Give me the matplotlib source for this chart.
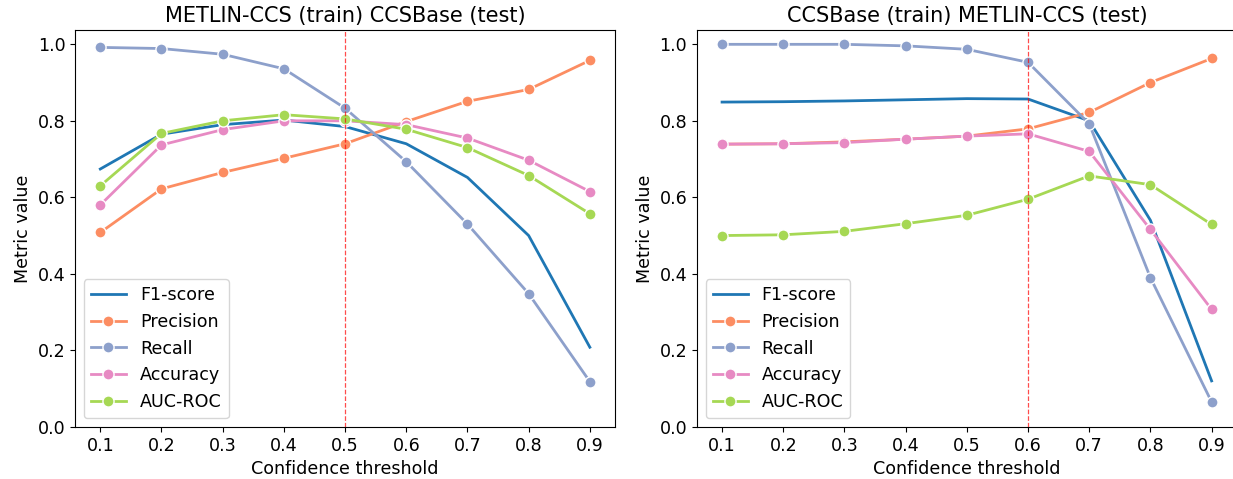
import numpy as np
import matplotlib
matplotlib.use("Agg")
import matplotlib.pyplot as plt

thresholds = [0.1, 0.2, 0.3, 0.4, 0.5, 0.6, 0.7, 0.8, 0.9]
metric_names = ["F1-score", "Precision", "Recall", "Accuracy", "AUC-ROC"]

# METLIN-CCS (train) -> CCSBase (test)
left_f1 = [0.674, 0.765, 0.790, 0.802, 0.785, 0.740, 0.652, 0.500, 0.208]
left_precision = [0.508, 0.622, 0.665, 0.702, 0.740, 0.798, 0.851, 0.882, 0.958]
left_recall = [0.992, 0.989, 0.974, 0.936, 0.833, 0.693, 0.530, 0.348, 0.118]
left_accuracy = [0.580, 0.737, 0.777, 0.800, 0.800, 0.790, 0.755, 0.697, 0.615]
left_auc = [0.630, 0.767, 0.800, 0.816, 0.805, 0.778, 0.730, 0.657, 0.557]

# CCSBase (train) -> METLIN-CCS (test)
right_f1 = [0.849, 0.850, 0.852, 0.855, 0.858, 0.857, 0.800, 0.540, 0.120]
right_precision = [0.739, 0.740, 0.745, 0.752, 0.760, 0.779, 0.822, 0.900, 0.963]
right_recall = [1.000, 1.000, 1.000, 0.996, 0.987, 0.953, 0.792, 0.390, 0.065]
right_accuracy = [0.739, 0.740, 0.743, 0.752, 0.760, 0.766, 0.720, 0.516, 0.307]
right_auc = [0.500, 0.502, 0.511, 0.531, 0.553, 0.595, 0.656, 0.633, 0.529]

panels = [
    ("METLIN-CCS (train) CCSBase (test)", 0.5,
     [left_f1, left_precision, left_recall, left_accuracy, left_auc]),
    ("CCSBase (train) METLIN-CCS (test)", 0.6,
     [right_f1, right_precision, right_recall, right_accuracy, right_auc]),
]

colors = ["#1f77b4", "#fc8d62", "#8da0cb", "#e78ac3", "#a6d854"]

fig, axes = plt.subplots(1, 2, figsize=(12.33, 4.79), dpi=100)
# right panel runs slightly off the canvas, as in the original crop
fig.subplots_adjust(left=0.061, right=1.003, top=0.937, bottom=0.109, wspace=0.152)

for ax, (title, best, series) in zip(axes, panels):
    for name, vals, c in zip(metric_names, series, colors):
        if name == "F1-score":
            ax.plot(thresholds, vals, color=c, lw=2, label=name)
        else:
            ax.plot(thresholds, vals, color=c, lw=2, marker="o", ms=8,
                    markeredgecolor="white", markeredgewidth=1, label=name)
    ax.axvline(best, color="red", ls="--", lw=0.9, alpha=0.7)
    ax.set_xticks(thresholds)
    ax.set_ylim(0, 1.037)
    ax.set_xlim(0.059, 0.941)
    ax.set_title(title, fontsize=15)
    ax.set_xlabel("Confidence threshold", fontsize=12.6)
    ax.set_ylabel("Metric value", fontsize=12.6)
    ax.tick_params(labelsize=12.6)
    ax.legend(loc="lower left", fontsize=12.6)

fig.savefig("out.png", dpi=100)
